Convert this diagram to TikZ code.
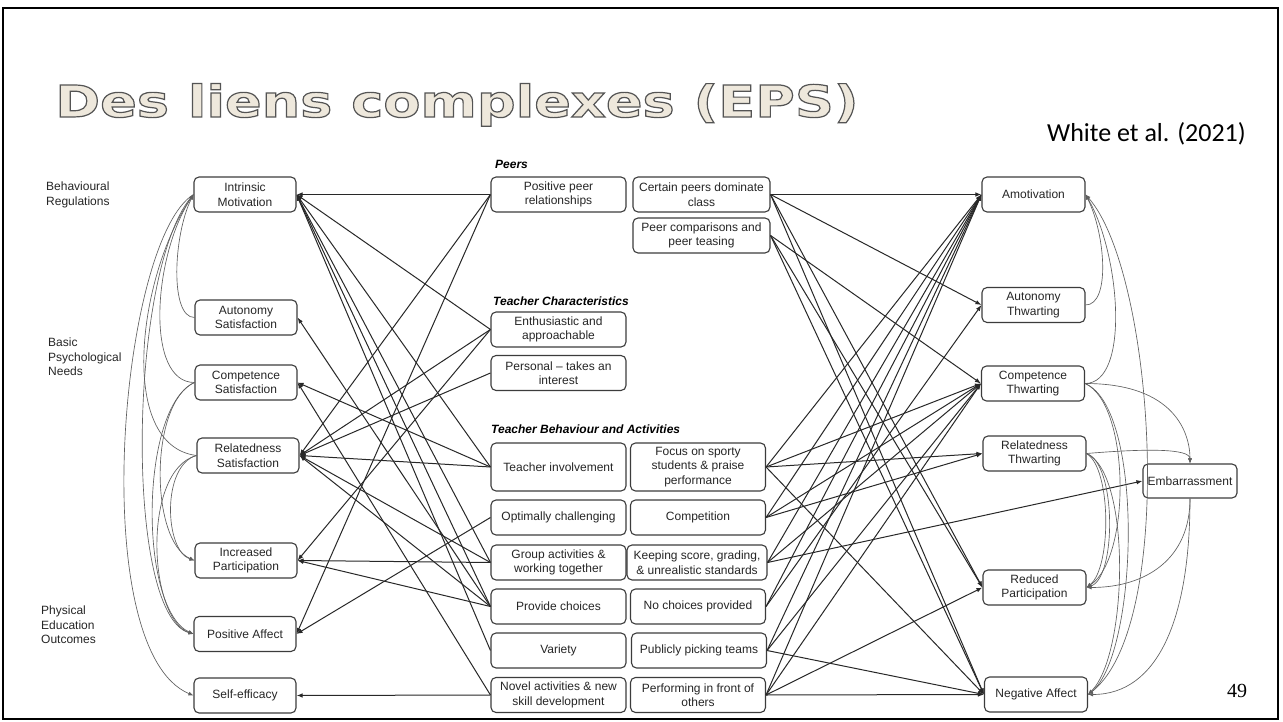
\documentclass[tikz,border=0pt]{standalone}
\usepackage{fontspec}
\setmainfont{Liberation Sans}
\newfontfamily\titlefont[FakeStretch=1.23]{DejaVu Sans}
\newfontfamily\citefont{Carlito}
\newfontfamily\numfont{Liberation Serif}
\usetikzlibrary{arrows.meta}

\definecolor{titlefill}{RGB}{238,232,220}
\definecolor{boxline}{RGB}{60,60,60}
\definecolor{linkcol}{RGB}{40,40,40}
\definecolor{curvecol}{RGB}{95,95,95}

\tikzset{
  box/.style={draw=boxline, line width=1.1pt, rounded corners=5pt, align=center,
    inner sep=0pt, font=\fontsize{12}{14.5}\selectfont, text=black!85},
  lbox/.style={box, minimum width=102pt, minimum height=35pt},
  mbox/.style={box, minimum width=135pt, minimum height=35pt},
  catlabel/.style={font=\fontsize{12}{14.5}\selectfont\bfseries\itshape, anchor=west, inner sep=0pt},
  sidelabel/.style={font=\fontsize{12}{14.5}\selectfont, align=left, anchor=west, inner sep=0pt, text=black!85},
  link/.style={draw=linkcol, line width=1pt, -{Latex[length=6pt,width=4.5pt]}},
  curvelink/.style={draw=curvecol, line width=0.65pt, -{Latex[length=5pt,width=4pt]}},
}

\begin{document}
\begin{tikzpicture}[x=1pt,y=-1pt]
\useasboundingbox (0,0) rectangle (1283,722);
\fill[white] (0,0) rectangle (1283,722);
\draw[line width=2.5pt] (3,8) rectangle (1278,719);

% side labels
\node[sidelabel] (lbr) at (46,195) {Behavioural\\Regulations};
\node[sidelabel] (lbn) at (48,357) {Basic\\Psychological\\Needs};
\node[sidelabel] (lpe) at (41,625) {Physical\\Education\\Outcomes};

% left column
\node[lbox] (im) at (245,194.5) {Intrinsic\\Motivation};
\node[lbox] (as) at (246,317.5) {Autonomy\\Satisfaction};
\node[lbox] (cs) at (246,382.5) {Competence\\Satisfaction};
\node[lbox] (rs) at (248,455.5) {Relatedness\\Satisfaction};
\node[lbox] (ip) at (246,560.5) {Increased\\Participation};
\node[lbox] (pa) at (245,634) {Positive Affect};
\node[lbox] (se) at (245,695.5) {Self-efficacy};

% category headings
\node[catlabel] (hpeers) at (495,164) {Peers};
\node[catlabel] (hchar) at (493,301) {Teacher Characteristics};
\node[catlabel] (hbeh) at (491,429) {Teacher Behaviour and Activities};

% middle, positive side
\node[mbox] (ppr) at (558.5,194.5) {Positive peer\\relationships};
\node[mbox] (ent) at (558.5,329.5) {Enthusiastic and\\approachable};
\node[mbox] (per) at (558.5,373) {Personal -- takes an\\interest};
\node[mbox, minimum height=48pt] (ti) at (558.5,467) {Teacher involvement};
\node[mbox] (oc) at (558.5,517.5) {Optimally challenging};
\node[mbox] (ga) at (558.5,562.5) {Group activities \&\\working together};
\node[mbox] (pc) at (558.5,606.5) {Provide choices};
\node[mbox] (var) at (558.5,650.5) {Variety};
\node[mbox] (nov) at (558.5,695) {Novel activities \& new\\skill development};

% middle, negative side
\node[mbox, minimum width=137pt] (cpd) at (701.5,194.5) {Certain peers dominate\\class};
\node[mbox, minimum width=137pt] (pct) at (701.5,235.5) {Peer comparisons and\\peer teasing};
\node[mbox, minimum height=48pt] (fos) at (698,467) {Focus on sporty\\students \& praise\\performance};
\node[mbox] (comp) at (698,517.5) {Competition};
\node[mbox, minimum width=140pt] (ks) at (697,562.5) {Keeping score, grading,\\\& unrealistic standards};
\node[mbox] (nc) at (698,606.5) {No choices provided};
\node[mbox] (ppt) at (699,650.5) {Publicly picking teams};
\node[mbox] (pfo) at (698,695) {Performing in front of\\others};

% right column
\node[lbox, minimum width=103pt] (am) at (1033.5,194.5) {Amotivation};
\node[lbox, minimum width=103pt] (at) at (1033.5,305) {Autonomy\\Thwarting};
\node[lbox, minimum width=103pt] (ct) at (1033,383.5) {Competence\\Thwarting};
\node[lbox, minimum width=103pt] (rt) at (1034.5,453.5) {Relatedness\\Thwarting};
\node[lbox, minimum width=94pt, minimum height=34pt] (emb) at (1190,481) {Embarrassment};
\node[lbox, minimum width=103pt] (rp) at (1034.5,587.5) {Reduced\\Participation};
\node[lbox, minimum width=103pt] (na) at (1036,694.5) {Negative Affect};

% positive factors -> satisfaction and outcomes
\foreach \s/\t in {ppr/im, ppr/rs, ppr/pa, ent/im, ent/rs, ent/ip, per/rs,
  ti/im, ti/cs, ti/rs, oc/pa, ga/im, ga/rs, ga/ip, pc/im, pc/as, pc/rs, pc/ip,
  var/im, nov/cs, nov/se}
  \draw[link] (\s.west) -- (\t.east);

% negative factors -> thwarting and outcomes
\foreach \s/\t in {cpd/am, cpd/at, cpd/rp, cpd/na, pct/ct, pct/rp, pct/na,
  fos/am, fos/ct, fos/rt, fos/na, comp/am, comp/ct, comp/rt, ks/am, ks/ct, ks/emb,
  nc/at, nc/am, ppt/am, ppt/ct, ppt/na, pfo/am, pfo/ct, pfo/rp, pfo/na}
  \draw[link] (\s.east) -- (\t.west);

% needs -> motivation and outcomes (left)
\draw[curvelink] (as.west) .. controls +(-25,0) and +(-20,40) .. (im.west);
\draw[curvelink] (cs.west) .. controls +(-50,0) and +(-40,60) .. (im.west);
\draw[curvelink] (rs.west) .. controls +(-80,-10) and +(-55,80) .. (im.west);
\draw[curvelink] (im.west) .. controls (120,240) and (85,650) .. (se.west);
\draw[curvelink] (im.west) .. controls +(-65,70) and +(-70,-20) .. (pa.west);
\draw[curvelink] (cs.west) .. controls +(-45,20) and +(-45,-20) .. (ip.west);
\draw[curvelink] (cs.west) .. controls +(-55,25) and +(-55,-25) .. (pa.west);
\draw[curvelink] (rs.west) .. controls +(-35,10) and +(-30,-10) .. (ip.west);
\draw[curvelink] (rs.west) .. controls +(-55,15) and +(-45,-15) .. (pa.west);

% thwarting -> amotivation and outcomes (right)
\draw[curvelink] (at.east) .. controls +(25,0) and +(20,40) .. (am.east);
\draw[curvelink] (ct.east) .. controls +(45,0) and +(35,60) .. (am.east);
\draw[curvelink] (na.east) .. controls +(90,-60) and +(70,80) .. (am.east);
\draw[curvelink] (ct.east) .. controls +(90,0) and +(0,-30) .. (emb.north);
\draw[curvelink] (rt.east) .. controls +(60,-5) and +(0,-15) .. (emb.north);
\draw[curvelink] (rt.east) .. controls +(30,10) and +(30,-10) .. (rp.east);
\draw[curvelink] (rt.east) .. controls +(25,15) and +(25,-20) .. (rp.east);
\draw[curvelink] (ct.east) .. controls +(45,20) and +(45,-30) .. (rp.east);
\draw[curvelink] (ct.east) .. controls +(60,25) and +(50,-40) .. (na.east);
\draw[curvelink] (rt.east) .. controls +(45,20) and +(40,-40) .. (na.east);
\draw[curvelink] (emb.south) .. controls +(0,60) and +(60,0) .. (rp.east);
\draw[curvelink] (emb.south) .. controls +(0,120) and +(70,0) .. (na.east);

% citation and page number
\node[font=\citefont\fontsize{26}{30}\selectfont, anchor=base east, inner sep=0pt] (cite) at (1246,142) {White et al. (2021)};
\node[font=\numfont\fontsize{20}{24}\selectfont, inner sep=0pt] (pnum) at (1237,691) {49};

% heading with outlined letters
\node[anchor=base west, inner sep=0pt, text=titlefill] (title) at (55,117)
  {\titlefont\bfseries\fontsize{44}{50}\selectfont
   \special{pdf:literal direct 2 Tr 1.2 w 0.33 0.33 0.33 RG}Des liens complexes (EPS)\special{pdf:literal direct 0 Tr}};
\end{tikzpicture}
\end{document}
